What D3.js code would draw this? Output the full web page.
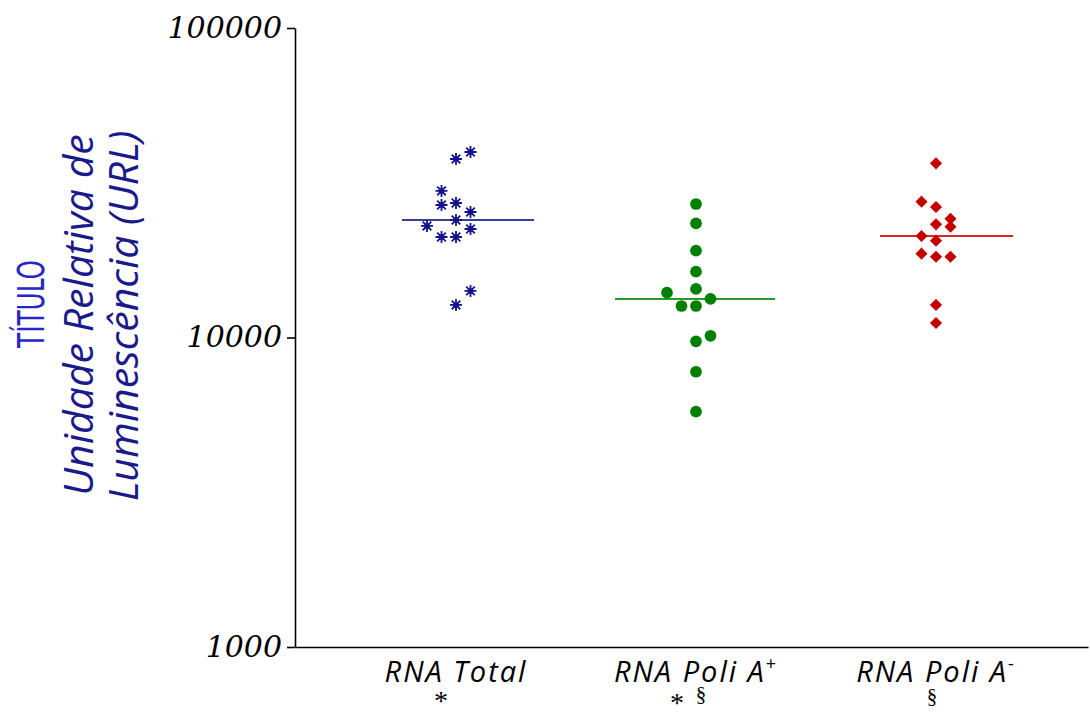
<!DOCTYPE html>
<html>
<head>
    <meta charset="utf-8">
    <style>
        body { margin: 0; background: #fff; }
        svg { display: block; }
        .tick text { font-family: "DejaVu Serif", serif; font-style: italic; font-size: 30px; fill: #000; }
        .axis path, .axis line { stroke: #000; stroke-width: 1.6px; }
        .xlab { font-family: "Open Sans", sans-serif; font-style: italic; font-size: 29px; letter-spacing: 2px; fill: #000; }
        .mark { font-family: "Liberation Serif", serif; fill: #000; }
        .ytitle { font-family: "Open Sans", sans-serif; font-style: italic; font-size: 41px; fill: #1a1a8c; }
    </style>
</head>
<body>
<div id="chart"></div>
<script src="https://cdn.jsdelivr.net/npm/d3@7"></script>
<script>
// groups
var groups = ["RNA Total", "RNA Poli A+", "RNA Poli A-"];
var labelMain = ["RNA Total", "RNA Poli A", "RNA Poli A"];
var labelSup = ["", "+", "-"];

// values (URL)
var totalVals = [39750, 37730, 29750, 27200, 26800, 25440, 23970, 22930, 22420, 21120, 21120, 14140, 12740];
var totalSlot = [1, 0, -1, 0, -1, 1, 0, -2, 1, -1, 0, 1, 0];

var poliPlusVals = [27000, 23390, 19080, 16320, 14350, 13960, 13320, 12640, 12640, 10130, 9720, 7750, 5760];
var poliPlusSlot = [0, 0, 0, 0, 0, -2, 1, -1, 0, 1, 0, 0, 0];

var poliMinusVals = [36540, 27470, 26400, 24200, 23210, 22800, 21280, 20550, 18660, 18240, 18240, 12740, 11140];
var poliMinusSlot = [0, -1, 0, 1, 0, 1, -1, 0, -1, 0, 1, 0, 0];

var yTicks = [1000, 10000, 100000];

var W = 1090, H = 713;
var svg = d3.select("#chart").append("svg").attr("width", W).attr("height", H);

var y = d3.scaleLog().domain([1000, 100000]).range([647, 28]);
var x = d3.scalePoint().domain(groups).range([456, 936]);
var slotW = 14.5;

var series = [
    {vals: totalVals, slot: totalSlot, color: "#14148a", line: "#3c3ca0", shape: "star", left: -54, right: 78},
    {vals: poliPlusVals, slot: poliPlusSlot, color: "#008000", line: "#2a9a2a", shape: "circle", left: -81, right: 79},
    {vals: poliMinusVals, slot: poliMinusSlot, color: "#c40000", line: "#d42424", shape: "diamond", left: -56, right: 77}
];

// axes
svg.append("g").attr("class", "axis")
    .attr("transform", "translate(295,0)")
    .call(d3.axisLeft(y).tickValues(yTicks).tickFormat(d3.format("d")).tickSize(8).tickSizeOuter(0).tickPadding(5))
    .call(function(g) { g.selectAll(".tick text").attr("dy", "0.3em"); });

var xAxisScale = d3.scaleLinear().domain([0, 1]).range([295, 1088]);
svg.append("g").attr("class", "axis")
    .attr("transform", "translate(0,647)")
    .call(d3.axisBottom(xAxisScale).tickValues([]).tickSizeOuter(0))
    .select(".domain").attr("stroke-width", 2);

// median lines + points
var star = "M-6,0H6M0,-6V6M-4.3,-4.3L4.3,4.3M-4.3,4.3L4.3,-4.3";

series.forEach(function(s, i) {
    var cx = x(groups[i]);
    var med = d3.median(s.vals);
    svg.append("line")
        .attr("x1", cx + s.left).attr("x2", cx + s.right)
        .attr("y1", y(med)).attr("y2", y(med))
        .attr("stroke", s.line).attr("stroke-width", 2);

    var pts = svg.append("g").selectAll("g")
        .data(s.vals.map(function(v, k) { return {v: v, slot: s.slot[k]}; }))
        .join("g")
        .attr("transform", function(d) { return "translate(" + (cx + d.slot * slotW) + "," + y(d.v) + ")"; });

    if (s.shape == "star") {
        pts.append("path").attr("d", star).attr("stroke", s.color).attr("stroke-width", 1.8).attr("fill", "none");
        pts.append("circle").attr("r", 2.8).attr("fill", s.color);
    } else if (s.shape == "circle") {
        pts.append("path").attr("d", d3.symbol(d3.symbolCircle, 108)).attr("fill", s.color);
    } else {
        pts.append("path").attr("d", d3.symbol(d3.symbolSquare, 74)).attr("transform", "rotate(45)").attr("fill", s.color);
    }
});

// x labels
groups.forEach(function(gname, i) {
    var t = svg.append("text").attr("class", "xlab")
        .attr("x", x(gname)).attr("y", 682).attr("text-anchor", "middle");
    t.append("tspan").text(labelMain[i]);
    if (labelSup[i]) {
        t.append("tspan").attr("dy", -12).style("font-size", "18px").style("font-style", "normal").text(labelSup[i]);
    }
});

// significance marks
function mark(px, py, size, txt) {
    svg.append("text").attr("class", "mark")
        .attr("x", px).attr("y", py).attr("text-anchor", "middle")
        .style("font-size", size + "px").text(txt);
}
mark(x(groups[0]) - 15, 710, 28, "*");
mark(x(groups[1]) - 19, 712, 28, "*");
mark(x(groups[1]) + 5, 701, 21, "§");
mark(x(groups[2]) - 4, 703, 21, "§");

// y titles
svg.append("text")
    .attr("transform", "translate(44,304) rotate(-90)")
    .attr("text-anchor", "middle")
    .attr("textLength", 88).attr("lengthAdjust", "spacingAndGlyphs")
    .style("font-family", "'DejaVu Sans Condensed', 'DejaVu Sans', sans-serif")
    .style("font-size", "37px").style("fill", "#2626c8")
    .text("TÍTULO");

svg.append("text").attr("class", "ytitle")
    .attr("transform", "translate(93,315) rotate(-90)")
    .attr("text-anchor", "middle")
    .text("Unidade Relativa de");

svg.append("text").attr("class", "ytitle")
    .attr("transform", "translate(138,316) rotate(-90)")
    .attr("text-anchor", "middle")
    .text("Luminescência (URL)");
</script>
</body>
</html>
